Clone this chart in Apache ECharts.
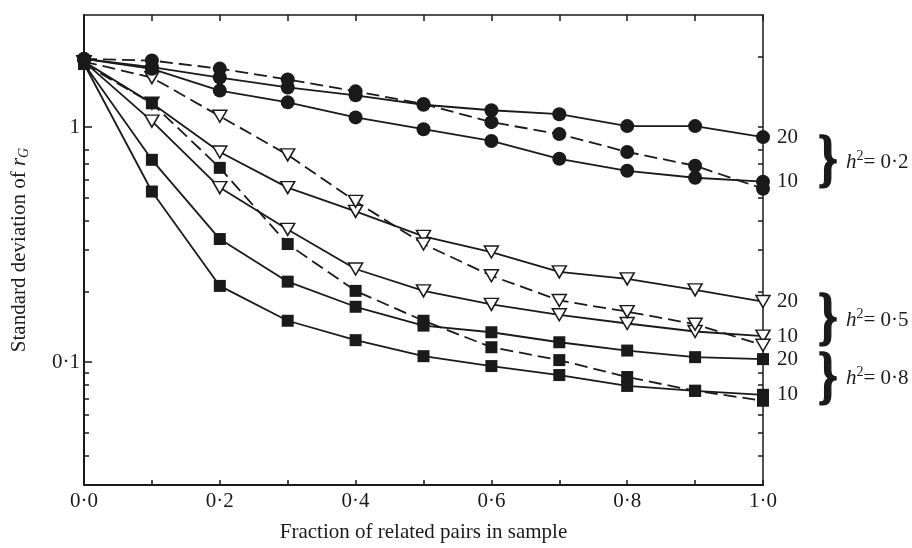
<!DOCTYPE html>
<html>
<head>
<meta charset="utf-8">
<script src="https://cdn.jsdelivr.net/npm/echarts@6/dist/echarts.min.js"></script>
<style>
html,body{margin:0;padding:0;background:#fff;}
#main{width:912px;height:548px;}
</style>
</head>
<body>
<div id="main"></div>
<script>
// fraction of related pairs (x)
var fractions = [0, 0.1, 0.2, 0.3, 0.4, 0.5, 0.6, 0.7, 0.8, 0.9, 1.0];

// h2 = 0.2 (circles)
var circle20   = [1.95, 1.80, 1.625, 1.475, 1.365, 1.245, 1.18, 1.135, 1.01, 1.01, 0.907];
var circle10   = [1.95, 1.77, 1.43, 1.275, 1.10, 0.98, 0.873, 0.733, 0.652, 0.609, 0.586];
var circleDash = [1.95, 1.92, 1.774, 1.594, 1.42, 1.255, 1.05, 0.934, 0.784, 0.685, 0.547];

// h2 = 0.5 (open triangles)
var tri20   = [1.90, 1.263, 0.784, 0.553, 0.438, 0.343, 0.294, 0.242, 0.226, 0.203, 0.181];
var tri10   = [1.90, 1.06, 0.553, 0.367, 0.249, 0.201, 0.176, 0.159, 0.146, 0.135, 0.129];
var triDash = [1.90, 1.625, 1.113, 0.762, 0.483, 0.318, 0.233, 0.183, 0.164, 0.145, 0.118];

// h2 = 0.8 (squares)
var sq20   = [1.86, 0.726, 0.334, 0.22, 0.172, 0.143, 0.134, 0.1215, 0.112, 0.105, 0.103];
var sq10   = [1.86, 0.532, 0.211, 0.150, 0.124, 0.106, 0.0962, 0.0881, 0.0792, 0.0755, 0.0726];
var sqDash = [1.86, 1.263, 0.671, 0.318, 0.201, 0.150, 0.1157, 0.102, 0.0864, 0.0755, 0.0685];

var yLabelValues = [0.1, 1];
var yMinorTicks = [2, 0.8, 0.7, 0.6, 0.5, 0.4, 0.3, 0.2, 0.09, 0.08, 0.07, 0.06, 0.05, 0.04];
var yAllTicks = [2, 1, 0.8, 0.7, 0.6, 0.5, 0.4, 0.3, 0.2, 0.1, 0.09, 0.08, 0.07, 0.06, 0.05, 0.04];

var FONT = '"Liberation Serif", "Times New Roman", serif';
var INK = '#1a1a1a';
var FS = 21;

function toPairs(ys){
    var out = [];
    for(var i=0;i<fractions.length;i++){
        out.push([fractions[i], ys[i]]);
    }
    return out;
}
function dotFormat(v){
    if(v==1){ return '1'; }
    return String(v).replace('.', '\u00b7');
}

function makeSeries(name, ys, marker, dashed, endText){
    var s = {
        name: name,
        type: 'line',
        data: toPairs(ys),
        symbol: marker.symbol,
        symbolSize: marker.size,
        symbolRotate: marker.rotate || 0,
        showAllSymbol: true,
        itemStyle: {color: marker.fill, borderColor: INK, borderWidth: marker.border},
        lineStyle: {color: INK, width: 1.8, type: dashed ? [13, 6] : 'solid'},
        emphasis: {disabled: true},
        animation: false
    };
    if(endText){
        s.endLabel = {
            show: true,
            formatter: endText,
            distance: 14,
            color: INK,
            fontFamily: FONT,
            fontSize: FS
        };
    }
    return s;
}

var circleMk = {symbol: 'circle', size: 14, fill: INK, border: 0};
var triMk = {symbol: 'triangle', size: [14, 12], rotate: 180, fill: '#fff', border: 1.5};
var sqMk = {symbol: 'rect', size: 12, fill: INK, border: 0};

var seriesList = [
    makeSeries('tri20', tri20, triMk, false, '20'),
    makeSeries('tri10', tri10, triMk, false, '10'),
    makeSeries('triDash', triDash, triMk, true, null),
    makeSeries('sq20', sq20, sqMk, false, '20'),
    makeSeries('sq10', sq10, sqMk, false, '10'),
    makeSeries('sqDash', sqDash, sqMk, true, null),
    makeSeries('circle20', circle20, circleMk, false, '20'),
    makeSeries('circle10', circle10, circleMk, false, '10'),
    makeSeries('circleDash', circleDash, circleMk, true, null)
];

function braceText(cy){
    return {
        type: 'text',
        x: 818,
        y: cy,
        scaleX: 0.78,
        style: {
            text: '}',
            font: 'bold 64px ' + FONT,
            fill: INK,
            stroke: INK,
            lineWidth: 1.6,
            textVerticalAlign: 'middle'
        }
    };
}
function h2Text(cy, val){
    return {
        type: 'text',
        x: 846,
        y: cy,
        style: {
            text: '{i|h}{s|2}{n|= ' + val + '}',
            textVerticalAlign: 'middle',
            rich: {
                i: {fontFamily: FONT, fontStyle: 'italic', fontSize: FS, fill: INK},
                s: {fontFamily: FONT, fontSize: 14, fill: INK, padding: [0, 0, 11, 0]},
                n: {fontFamily: FONT, fontSize: FS, fill: INK}
            }
        }
    };
}

var chart = echarts.init(document.getElementById('main'));
var option = {
    backgroundColor: '#fff',
    animation: false,
    grid: {left: 84, right: 149, top: 15, bottom: 60},
    xAxis: [
        {
            type: 'value',
            min: 0,
            max: 1,
            interval: 0.1,
            position: 'bottom',
            name: 'Fraction of related pairs in sample',
            nameLocation: 'middle',
            nameGap: 37,
            nameTextStyle: {fontFamily: FONT, fontSize: FS, color: INK},
            axisLine: {lineStyle: {color: INK, width: 2}},
            axisTick: {inside: true, length: 5, lineStyle: {color: INK, width: 1.5}},
            axisLabel: {
                margin: 6,
                fontFamily: FONT,
                fontSize: FS,
                color: INK,
                formatter: function(v){
                    var k = Math.round(v*10);
                    if(k % 2 != 0){ return ''; }
                    return (k/10).toFixed(1).replace('.', '\u00b7');
                }
            },
            splitLine: {show: false}
        },
        {
            type: 'value',
            min: 0,
            max: 1,
            interval: 0.1,
            position: 'top',
            axisLine: {lineStyle: {color: INK, width: 1.5}},
            axisTick: {inside: true, length: 6, lineStyle: {color: INK, width: 1.5}},
            axisLabel: {show: false},
            splitLine: {show: false}
        }
    ],
    yAxis: [
        {
            type: 'log',
            logBase: 10,
            min: 0.03,
            max: 3,
            position: 'left',
            name: '{n|Standard deviation of }{i|r}{s|G}',
            nameLocation: 'middle',
            nameGap: 53,
            nameRotate: 90,
            nameTextStyle: {
                rich: {
                    n: {fontFamily: FONT, fontSize: FS, color: INK},
                    i: {fontFamily: FONT, fontSize: FS, fontStyle: 'italic', color: INK},
                    s: {fontFamily: FONT, fontSize: 14, fontStyle: 'italic', color: INK, padding: [10, 0, 0, 0]}
                }
            },
            axisLine: {show: true, lineStyle: {color: INK, width: 2}},
            axisTick: {inside: true, length: 8, customValues: yLabelValues, lineStyle: {color: INK, width: 1.5}},
            axisLabel: {
                margin: 4,
                customValues: yLabelValues,
                fontFamily: FONT,
                fontSize: FS,
                color: INK,
                formatter: dotFormat
            },
            splitLine: {show: false}
        },
        {
            type: 'log',
            logBase: 10,
            min: 0.03,
            max: 3,
            position: 'left',
            axisLine: {show: false},
            axisTick: {inside: true, length: 5, customValues: yMinorTicks, lineStyle: {color: INK, width: 1.5}},
            axisLabel: {show: false},
            splitLine: {show: false}
        },
        {
            type: 'log',
            logBase: 10,
            min: 0.03,
            max: 3,
            position: 'right',
            axisLine: {show: true, lineStyle: {color: INK, width: 1.5}},
            axisTick: {inside: true, length: 5, customValues: yAllTicks, lineStyle: {color: INK, width: 1.5}},
            axisLabel: {show: false},
            splitLine: {show: false}
        }
    ],
    graphic: [
        braceText(162), h2Text(162, '0\u00b72'),
        braceText(320), h2Text(320, '0\u00b75'),
        braceText(379), h2Text(378, '0\u00b78')
    ],
    series: seriesList
};
chart.setOption(option);
</script>
</body>
</html>
